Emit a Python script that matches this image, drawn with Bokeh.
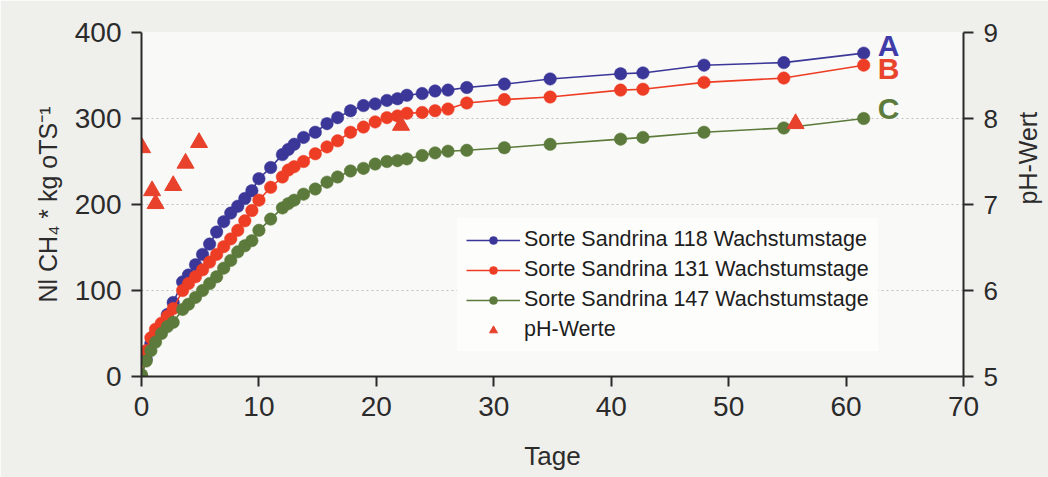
import math
from bokeh.plotting import figure
from bokeh.models import Range1d, LinearAxis, FixedTicker, Legend, LegendItem, ColumnDataSource
from bokeh.embed import file_html
from bokeh.resources import INLINE
from bokeh.core.properties import value

# ---- data ----
days = [0, 0.4, 0.8, 1.2, 1.7, 2.2, 2.7, 3.5, 4.0, 4.6, 5.2, 5.8, 6.4, 7.0, 7.6, 8.2, 8.8,
        9.4, 10.0, 11.0, 12.0, 12.5, 13.0, 13.8, 14.8, 15.8, 16.7, 17.8, 18.9, 19.9, 20.9,
        21.8, 22.6, 23.9, 25.0, 26.1, 27.7, 30.9, 34.8, 40.8, 42.7, 47.9, 54.7, 61.5]
sandrina_118 = [0, 20, 38, 50, 60, 72, 86, 110, 118, 130, 142, 154, 168, 180, 190, 198, 207,
                216, 230, 243, 258, 264, 270, 278, 284, 294, 301, 309, 315, 317, 321,
                323, 327, 329, 332, 333, 336, 340, 346, 352, 353, 362, 365, 376]
sandrina_131 = [0, 30, 45, 55, 62, 70, 79, 100, 108, 116, 124, 133, 142, 151, 160, 170, 181,
                193, 205, 220, 232, 240, 244, 250, 259, 267, 274, 284, 290, 296, 301,
                303, 306, 307, 309, 311, 318, 322, 325, 333, 334, 342, 347, 362]
sandrina_147 = [2, 18, 30, 40, 50, 58, 63, 78, 84, 92, 100, 108, 116, 126, 135, 145, 152,
                158, 170, 183, 196, 201, 205, 212, 218, 226, 232, 239, 242, 247, 250,
                251, 253, 257, 260, 262, 263, 266, 270, 276, 278, 284, 289, 300]
ph_days = [0.05, 0.9, 1.2, 2.7, 3.75, 4.9, 22.1, 55.7]
ph_values = [7.66, 7.16, 7.01, 7.22, 7.48, 7.72, 7.92, 7.94]

series_labels = ["Sorte Sandrina 118 Wachstumstage",
                 "Sorte Sandrina 131 Wachstumstage",
                 "Sorte Sandrina 147 Wachstumstage"]
ph_label = "pH-Werte"
end_letters = ["A", "B", "C"]
x_ticks = [0, 10, 20, 30, 40, 50, 60, 70]
y_ticks = [0, 100, 200, 300, 400]
ph_ticks = [5, 6, 7, 8, 9]

colors = ["#3b3799", "#ee3d25", "#5c7a3b"]
letter_colors = ["#3f3caa", "#e9442c", "#5c7b3c"]
ph_color = "#e8412c"
FONT = "Liberation Sans"
TXT = "#2b2b2b"

p = figure(frame_width=822, frame_height=344,
           x_range=Range1d(0, 70), y_range=Range1d(0, 400),
           output_backend="svg", toolbar_location=None,
           min_border_left=141, min_border_right=85,
           min_border_top=32, min_border_bottom=101)
p.extra_y_ranges = {"ph": Range1d(5, 9)}
p.outline_line_color = None
p.background_fill_color = "#f9f9f7"
p.border_fill_color = "#efefeb"

# axes
p.xaxis.ticker = FixedTicker(ticks=x_ticks)
p.yaxis.ticker = FixedTicker(ticks=y_ticks)
p.xaxis.axis_label = "Tage"
p.yaxis.axis_label = "Nl CH\u2084 * kg oTS\u207b\u00b9"

ax_r = LinearAxis(y_range_name="ph", ticker=FixedTicker(ticks=ph_ticks), axis_label="pH-Wert")
p.add_layout(ax_r, "right")

for ax in [p.xaxis[0], p.yaxis[0], ax_r]:
    ax.axis_line_color = "#2a2a2a"
    ax.axis_line_width = 2
    ax.major_tick_line_color = "#2a2a2a"
    ax.major_tick_line_width = 2
    ax.major_tick_out = 10
    ax.major_tick_in = 0
    ax.minor_tick_out = 0
    ax.minor_tick_in = 0
    ax.major_label_text_font = FONT
    ax.major_label_text_font_size = "28px"
    ax.major_label_text_color = TXT
    ax.axis_label_text_font = FONT
    ax.axis_label_text_font_style = "normal"
    ax.axis_label_text_color = TXT
    ax.major_label_standoff = 10

p.xaxis.axis_label_text_font_size = "26px"
p.xaxis.axis_label_standoff = 22
p.yaxis.axis_label_text_font_size = "25px"
p.yaxis.axis_label_standoff = 10
ax_r.axis_label_text_font_size = "25px"
ax_r.axis_label_standoff = 27
ax_r.axis_label_orientation = math.pi / 2
ax_r.major_label_text_font_size = "26px"

p.xgrid.visible = False
p.ygrid.ticker = FixedTicker(ticks=y_ticks)
p.ygrid.grid_line_color = "#9a9a9a"
p.ygrid.grid_line_dash = "2 3"
p.ygrid.grid_line_alpha = 0.6

# series
items = []
for vals, col, lab in zip([sandrina_118, sandrina_131, sandrina_147], colors, series_labels):
    src = ColumnDataSource(dict(x=days, y=vals))
    ln = p.line("x", "y", source=src, line_color=col, line_width=1.6)
    sc = p.scatter("x", "y", source=src, marker="circle", size=12.5,
                   fill_color=col, line_color=col, line_width=0.5)
    items.append(LegendItem(label=lab, renderers=[ln, sc]))

ph_src = ColumnDataSource(dict(x=ph_days, y=ph_values))
tri = p.scatter("x", "y", source=ph_src, marker="triangle", size=17,
                fill_color=ph_color, line_color=ph_color, y_range_name="ph")
items.append(LegendItem(label=ph_label, renderers=[tri]))

# end letters A, B, C next to the last point of each series
lab_src = ColumnDataSource(dict(
    x=[days[-1]] * 3,
    y=[sandrina_118[-1], sandrina_131[-1], sandrina_147[-1]],
    t=end_letters, c=letter_colors, dy=[-8, 3, -10]))
p.text("x", "y", text="t", source=lab_src, text_color="c", x_offset=14, y_offset="dy",
       text_font=value(FONT), text_font_style="bold", text_font_size="30px",
       text_baseline="middle", text_align="left")

legend = Legend(items=items, location=(316, 25))
legend.label_text_font = FONT
legend.label_text_font_size = "21.5px"
legend.label_text_color = "#1e1e1e"
legend.glyph_width = 54
legend.glyph_height = 20
legend.label_height = 20
legend.label_standoff = 4
legend.spacing = 5
legend.padding = 9
legend.margin = 0
legend.border_line_alpha = 0
legend.background_fill_color = "#fdfdfc"
legend.background_fill_alpha = 0.95
p.add_layout(legend, "center")

open("out.html", "w").write(file_html(p, INLINE))
